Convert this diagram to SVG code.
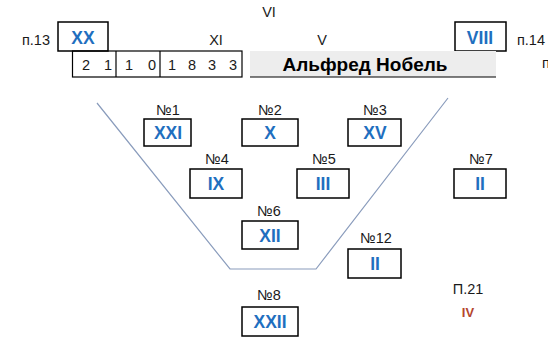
<svg xmlns="http://www.w3.org/2000/svg" width="548" height="358" viewBox="0 0 548 358">
<style>
.t{font-family:"Liberation Sans","DejaVu Sans",sans-serif;font-size:14.5px;fill:#1a1a1a;text-anchor:middle}
.n{font-family:"Liberation Sans","DejaVu Sans",sans-serif;font-size:17.5px;font-weight:bold;fill:#1f6fbf;text-anchor:middle}
.b{fill:#fff;stroke:#000;stroke-width:1.5}
.c{fill:none;stroke:#8a9cbc;stroke-width:1.2}
.d{font-family:"Liberation Sans","DejaVu Sans",sans-serif;font-size:14.5px;fill:#1a1a1a;text-anchor:middle}
</style>
<rect width="548" height="358" fill="#fff"/>
<g id="connectors">
<polyline class="c" points="97,103 230,269 316,269 448,98"/>
</g>
<g id="header">
<text class="t" x="269" y="17">VI</text>
<text class="t" x="216" y="45">XI</text>
<text class="t" x="322" y="45">V</text>
<text class="t" x="36" y="45">п.13</text>
<text class="t" x="531" y="45">п.14</text>
<text class="t" x="546" y="68">п</text>
</g>
<g id="xx">
<rect class="b" x="58" y="22" width="50" height="29"/>
<text class="n" x="83" y="44">XX</text>
</g>
<g id="viii">
<rect class="b" x="455" y="22" width="51" height="29"/>
<text class="n" x="480" y="44">VIII</text>
</g>
<g id="digits">
<rect fill="none" stroke="#000" stroke-width="1.2" x="72.5" y="51" width="169.5" height="26"/>
<line x1="116" y1="51" x2="116" y2="77" stroke="#000" stroke-width="1.2"/>
<line x1="160" y1="51" x2="160" y2="77" stroke="#000" stroke-width="1.2"/>
<text class="d" x="86" y="70">2</text>
<text class="d" x="108" y="70">1</text>
<text class="d" x="129" y="70">1</text>
<text class="d" x="152" y="70">0</text>
<text class="d" x="172" y="70">1</text>
<text class="d" x="192" y="70">8</text>
<text class="d" x="212" y="70">3</text>
<text class="d" x="233" y="70">3</text>
</g>
<g id="nobel">
<rect x="250" y="51" width="246" height="26" fill="#ededed"/>
<line x1="250" y1="77" x2="496" y2="77" stroke="#000" stroke-width="1.2"/>
<text x="365" y="71" font-family="Liberation Sans, DejaVu Sans, sans-serif" font-size="19" font-weight="bold" fill="#000" text-anchor="middle">Альфред Нобель</text>
</g>
<g id="n1">
<text class="t" x="168" y="115">№1</text>
<rect class="b" x="144" y="119" width="47" height="27"/>
<text class="n" x="168" y="139">XXI</text>
</g>
<g id="n2">
<text class="t" x="270" y="115">№2</text>
<rect class="b" x="242" y="119" width="56" height="27"/>
<text class="n" x="270" y="139">X</text>
</g>
<g id="n3">
<text class="t" x="375" y="115">№3</text>
<rect class="b" x="348" y="119" width="53" height="27"/>
<text class="n" x="375" y="139">XV</text>
</g>
<g id="n4">
<text class="t" x="217" y="164">№4</text>
<rect class="b" x="190" y="169" width="52" height="29"/>
<text class="n" x="216" y="190">IX</text>
</g>
<g id="n5">
<text class="t" x="324" y="164">№5</text>
<rect class="b" x="297" y="169" width="52" height="29"/>
<text class="n" x="323" y="190">III</text>
</g>
<g id="n7">
<text class="t" x="481" y="164">№7</text>
<rect class="b" x="454" y="169" width="52" height="29"/>
<text class="n" x="480" y="190">II</text>
</g>
<g id="n6">
<text class="t" x="269" y="216">№6</text>
<rect class="b" x="242" y="221" width="56" height="28"/>
<text class="n" x="270" y="242">XII</text>
</g>
<g id="n12">
<text class="t" x="376" y="243">№12</text>
<rect class="b" x="348" y="249" width="53" height="29"/>
<text class="n" x="375" y="270">II</text>
</g>
<g id="n8">
<text class="t" x="269" y="300">№8</text>
<rect class="b" x="242" y="307" width="56" height="29"/>
<text class="n" x="270" y="328">XXII</text>
</g>
<g id="p21">
<text class="t" x="468" y="294">П.21</text>
<text x="468" y="317" font-family="Liberation Sans, DejaVu Sans, sans-serif" font-size="13" font-weight="bold" fill="#b5462e" text-anchor="middle">IV</text>
</g>
</svg>
